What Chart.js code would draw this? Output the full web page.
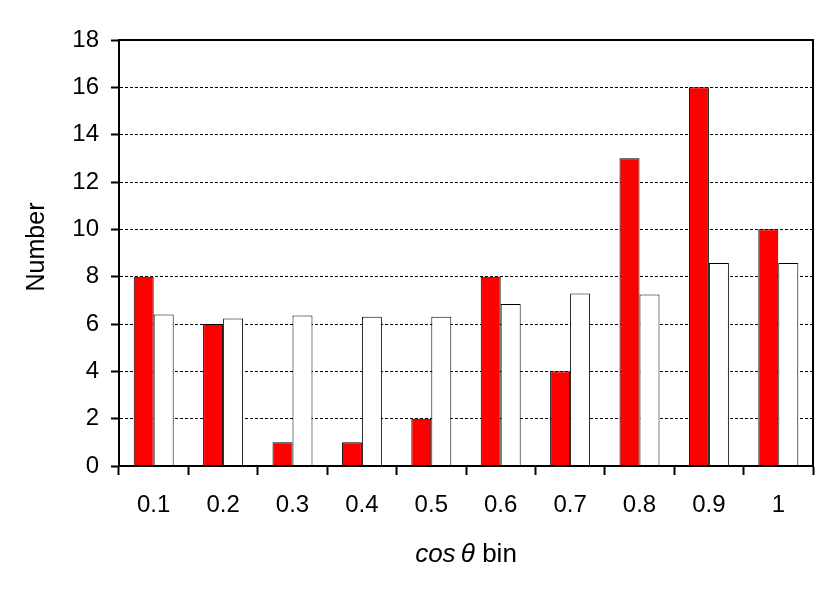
<!DOCTYPE html>
<html><head><meta charset="utf-8">
<script src="https://cdn.jsdelivr.net/npm/chart.js@4"></script>
<style>html,body{margin:0;padding:0;background:#fff}</style>
</head><body>
<canvas id="c" width="830" height="596"></canvas>
<script>
const categories = ['0.1','0.2','0.3','0.4','0.5','0.6','0.7','0.8','0.9','1'];
const observed = [8, 6, 1, 1, 2, 8, 4, 13, 16, 10];
const expected = [6.40, 6.23, 6.36, 6.31, 6.31, 6.84, 7.29, 7.25, 8.58, 8.58];
const yMin = 0, yMax = 18, yStep = 2;
const yTitle = 'Number';
const xTitleItalic = 'cos\u2009θ';
const xTitleRest = ' bin';

const FONT = '"Liberation Sans", Arial, sans-serif';

const framePlugin = {
  id: 'frame',
  afterDraw(chart) {
    const {ctx, chartArea: a} = chart;
    ctx.save();
    ctx.strokeStyle = '#000';
    ctx.lineWidth = 2;
    ctx.strokeRect(a.left, a.top, a.right - a.left, a.bottom - a.top);
    ctx.fillStyle = '#000';
    ctx.textBaseline = 'middle';
    ctx.save();
    ctx.translate(37, 247);
    ctx.rotate(-Math.PI / 2);
    ctx.font = '25px ' + FONT;
    ctx.textAlign = 'center';
    ctx.fillText(yTitle, 0, 0);
    ctx.restore();
    ctx.font = 'italic 26px ' + FONT;
    const w1 = ctx.measureText(xTitleItalic).width;
    ctx.font = '26px ' + FONT;
    const w2 = ctx.measureText(xTitleRest).width;
    const cx = (a.left + a.right) / 2;
    let x0 = cx - (w1 + w2) / 2;
    ctx.textAlign = 'left';
    ctx.font = 'italic 26px ' + FONT;
    ctx.fillText(xTitleItalic, x0, 555);
    ctx.font = '26px ' + FONT;
    ctx.fillText(xTitleRest, x0 + w1, 555);
    ctx.restore();
  }
};

new Chart(document.getElementById('c'), {
  type: 'bar',
  data: {
    labels: categories,
    datasets: [
      { data: observed, backgroundColor: '#ff0000', borderColor: '#000', borderWidth: 1,
        categoryPercentage: 0.576, barPercentage: 1.0 },
      { data: expected, backgroundColor: '#ffffff', borderColor: '#000', borderWidth: 1,
        categoryPercentage: 0.576, barPercentage: 1.0 }
    ]
  },
  options: {
    responsive: false,
    animation: false,
    devicePixelRatio: 1,
    layout: { padding: { top: 40, right: 17, left: 0, bottom: 0 } },
    plugins: { legend: { display: false }, tooltip: { enabled: false }, title: { display: false } },
    scales: {
      x: {
        afterFit(s) { s.height = 130; },
        grid: { display: true, offset: true, drawOnChartArea: false, drawTicks: true,
                tickLength: 9, tickWidth: 2, tickColor: '#000', color: '#000' },
        border: { display: true, color: '#000', width: 2 },
        ticks: { color: '#000', padding: 16, font: { family: FONT, size: 24 } }
      },
      y: {
        min: yMin, max: yMax,
        afterFit(s) { s.width = 119; },
        grid: { display: true, drawTicks: true, tickLength: 8, tickWidth: 2, tickColor: '#000',
                color: '#000', lineWidth: 1 },
        border: { display: true, color: '#000', width: 2, dash: [3, 2] },
        ticks: { stepSize: yStep, color: '#000', padding: 12, font: { family: FONT, size: 24 } }
      }
    }
  },
  plugins: [framePlugin]
});
</script>
</body></html>
